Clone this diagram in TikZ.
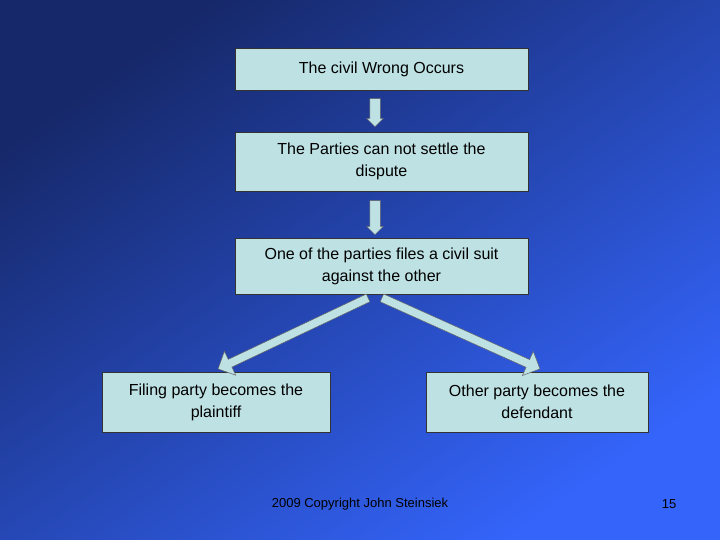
\documentclass[tikz,border=0pt]{standalone}
\usepackage{fontspec}
\setmainfont{Liberation Sans}
\usetikzlibrary{shapes.arrows,calc}
\definecolor{boxfill}{RGB}{190,225,228}
\definecolor{bgA}{RGB}{22,40,105}
\definecolor{bgB}{RGB}{52,100,250}
\tikzset{
  box/.style={draw=black!80, fill=boxfill, line width=0.6pt, font=\fontsize{16}{22}\selectfont, align=center, inner sep=0pt},
  barr/.style={single arrow, draw=black!60, fill=boxfill, inner sep=5pt, single arrow head extend=3pt, single arrow head indent=0pt, line width=0.5pt, minimum width=0pt, anchor=center},
  barrw/.style={barr, inner sep=4pt, single arrow head extend=9pt},
  foot/.style={font=\fontsize{13}{15}\selectfont, text=black}
}
\newcommand\blockarrow[3]{\path let \p1=($(#2)-(#1)$), \n1={veclen(\x1,\y1)}, \n2={atan2(\y1,\x1)} in node[#3, minimum height=\n1, rotate=\n2] at ($(#1)!0.5!(#2)$) {};}
\begin{document}
\begin{tikzpicture}[x=1pt,y=-1pt]
\useasboundingbox (0,0) rectangle (720,540);
\shade[shading=axis, left color=bgA, right color=bgB, shading angle=35] (0,0) rectangle (720,540);
\node[box, minimum width=293pt, minimum height=42pt] (b1) at (381.5,69) {The civil Wrong Occurs};
\node[box, minimum width=293pt, minimum height=59pt] (b2) at (381.5,161.5) {The Parties can not settle the\\dispute};
\node[box, minimum width=293pt, minimum height=56pt] (b3) at (381.5,266) {One of the parties files a civil suit\\against the other};
\node[box, minimum width=228pt, minimum height=60pt] (b4) at (216,402) {Filing party becomes the\\plaintiff};
\node[box, minimum width=222pt, minimum height=60pt] (b5) at (537,402) {Other party becomes the\\defendant};
\coordinate (a1s) at (375,96); \coordinate (a1e) at (375,124);
\coordinate (a2s) at (375,198); \coordinate (a2e) at (375,232);
\coordinate (a3s) at (370,297); \coordinate (a3e) at (220,368);
\coordinate (a4s) at (380,297); \coordinate (a4e) at (538,368);
\blockarrow{a1s}{a1e}{barr}
\blockarrow{a2s}{a2e}{barr}
\blockarrow{a3s}{a3e}{barrw}
\blockarrow{a4s}{a4e}{barrw}
\node[foot] (f1) at (360,504) {2009 Copyright John Steinsiek};
\node[foot] (f2) at (669,504) {15};
\end{tikzpicture}
\end{document}
